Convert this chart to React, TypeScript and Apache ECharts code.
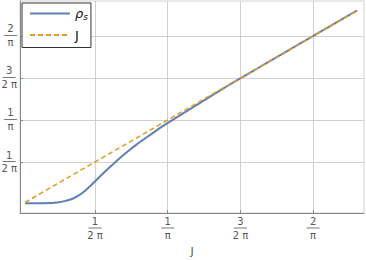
import React, { useEffect, useRef } from "react";
import * as echarts from "echarts";

const TAU = 2 * Math.PI;
const tickValues = [1 / TAU, 2 / TAU, 3 / TAU, 4 / TAU];
const tickNumerators = ["1", "1", "3", "2"];
const tickDenominators = ["2 π", "π", "2 π", "π"];

const rhoX = [0.006, 0.04, 0.06, 0.07, 0.08, 0.09, 0.1, 0.11, 0.12, 0.13, 0.14, 0.15, 0.16, 0.17, 0.18, 0.19, 0.2, 0.215, 0.23, 0.25, 0.27, 0.29, 0.31, 0.33, 0.36, 0.39, 0.42, 0.45, 0.48, 0.52, 0.56, 0.6, 0.65, 0.7, 0.733];
const rhoY = [0.003, 0.003, 0.004, 0.005, 0.007, 0.01, 0.014, 0.02, 0.029, 0.04, 0.054, 0.07, 0.087, 0.104, 0.121, 0.137, 0.153, 0.176, 0.198, 0.225, 0.25, 0.274, 0.298, 0.32, 0.352, 0.384, 0.416, 0.448, 0.479, 0.519, 0.559, 0.6, 0.65, 0.7, 0.733];
const jX = [0.006, 0.733];
const jY = [0.006, 0.733];

function fracLabel(v: number) {
  let idx = 0;
  let best = Infinity;
  tickValues.forEach((t, i) => {
    const d = Math.abs(t - v);
    if (d < best) {
      best = d;
      idx = i;
    }
  });
  return `{n|${tickNumerators[idx]}}\n{b| }\n{d|${tickDenominators[idx]}}`;
}

const richFrac = {
  n: { fontSize: 10, color: "#555", lineHeight: 9, align: "center" },
  b: { width: 13, height: 1, backgroundColor: "#777", lineHeight: 4, fontSize: 1, align: "center" },
  d: { fontSize: 10, color: "#555", lineHeight: 10, align: "center" },
};

export default function App() {
  const ref = useRef<HTMLDivElement>(null);
  useEffect(() => {
    if (!ref.current) return;
    document.body.style.margin = "0";
    const chart = echarts.init(ref.current, undefined, { renderer: "svg" });
    const gridLine = { show: true, lineStyle: { color: "#d0d0d0", width: 1 } };
    chart.setOption({
      animation: false,
      textStyle: { fontFamily: "DejaVu Sans" },
      grid: {
        left: 20,
        right: 2,
        top: 1,
        bottom: 47,
        containLabel: false,
        outerBoundsMode: "none",
        show: true,
        borderColor: "#d0d0d0",
        borderWidth: 1,
      },
      legend: {
        left: 22,
        top: 3,
        orient: "vertical",
        backgroundColor: "#fff",
        borderColor: "#333",
        borderWidth: 1,
        borderRadius: 0,
        padding: [4, 3, 6, 7],
        itemWidth: 40,
        itemHeight: 14,
        itemGap: 7,
        itemStyle: { opacity: 0 },
        data: ["rho", "J"],
        formatter: (name: string) => (name === "rho" ? "{r|ρ}{s|s}" : "{j|J}"),
        textStyle: {
          color: "#111",
          rich: {
            r: { fontSize: 13, fontStyle: "italic", color: "#111", fontFamily: "DejaVu Sans" },
            s: { fontSize: 9, fontStyle: "italic", color: "#111", padding: [7, 0, 0, 0], fontFamily: "DejaVu Sans" },
            j: { fontSize: 13, color: "#111", fontFamily: "DejaVu Sans" },
          },
        },
      },
      xAxis: {
        type: "value",
        min: -0.005,
        max: 0.748,
        name: "J",
        nameLocation: "middle",
        nameGap: 33,
        nameTextStyle: { color: "#555", fontSize: 11 },
        axisLine: { show: true, onZero: false, lineStyle: { color: "#888" } },
        axisTick: { show: true, inside: true, length: 3, lineStyle: { color: "#888" }, customValues: tickValues },
        axisLabel: { customValues: tickValues, formatter: fracLabel, rich: richFrac, margin: 4 },
        splitLine: { ...gridLine, customValues: tickValues },
      },
      yAxis: {
        type: "value",
        min: -0.034,
        max: 0.769,
        axisLine: { show: true, onZero: false, lineStyle: { color: "#888" } },
        axisTick: { show: true, inside: true, length: 3, lineStyle: { color: "#888" }, customValues: tickValues },
        axisLabel: { customValues: tickValues, formatter: fracLabel, rich: richFrac, margin: 3 },
        splitLine: { ...gridLine, customValues: tickValues },
      },
      series: [
        {
          name: "rho",
          type: "line",
          data: rhoX.map((x, i) => [x, rhoY[i]]),
          smooth: 0.15,
          symbol: "none",
          lineStyle: { color: "#5e81b5", width: 2 },
          itemStyle: { color: "#5e81b5" },
          z: 2,
        },
        {
          name: "J",
          type: "line",
          data: jX.map((x, i) => [x, jY[i]]),
          symbol: "none",
          lineStyle: { color: "#e19c24", width: 1.6, type: [5, 3] },
          itemStyle: { color: "#e19c24" },
          z: 3,
        },
      ],
    });
    return () => chart.dispose();
  }, []);
  return <div ref={ref} style={{ width: 366, height: 260 }} />;
}
